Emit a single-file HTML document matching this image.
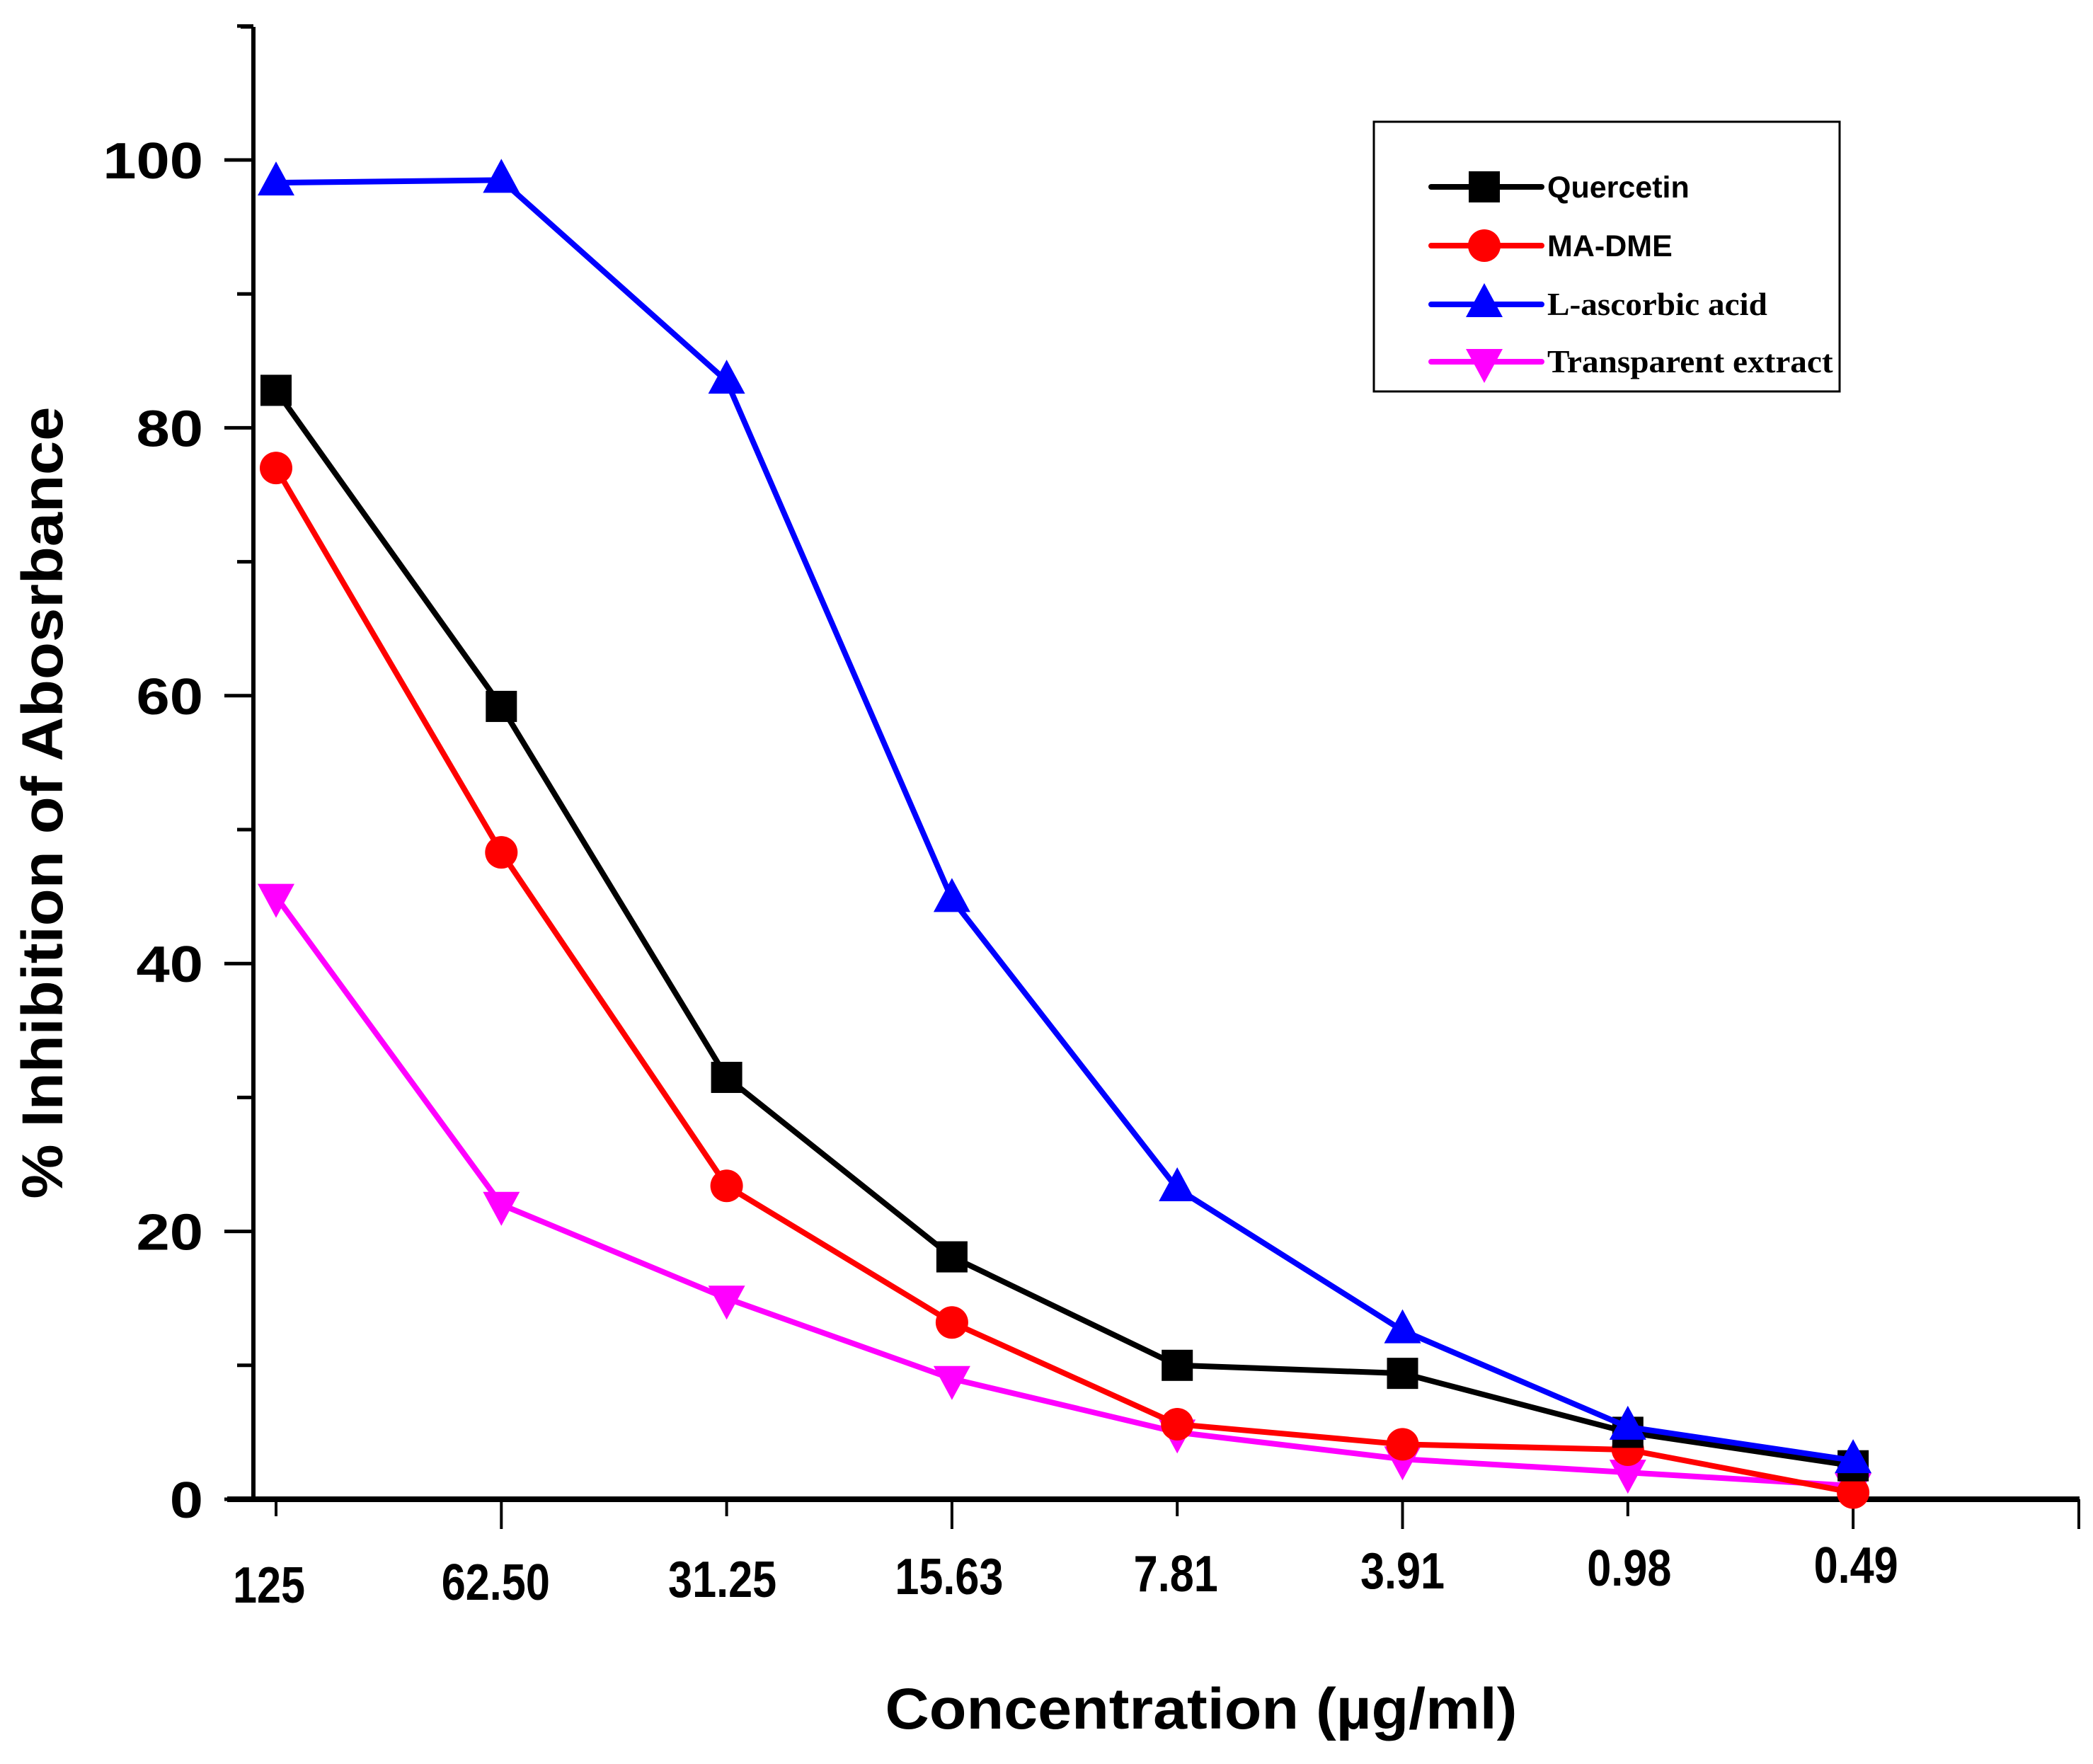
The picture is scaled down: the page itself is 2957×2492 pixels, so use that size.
<!DOCTYPE html>
<html><head><meta charset="utf-8"><style>
html,body{margin:0;padding:0;background:#fff;}
svg{display:block;}
</style></head><body>
<svg id="chart" width="2957" height="2492" viewBox="0 0 2957 2492" xmlns="http://www.w3.org/2000/svg">
<g id="axes"></g>
<g id="series"></g>
<g id="legend">
  <rect x="1941" y="172" width="658" height="381" fill="#fff" stroke="#000" stroke-width="3"/>
</g>
<text x="1697" y="2442" text-anchor="middle" font-family="Liberation Sans, sans-serif" font-weight="bold" font-size="82" textLength="893" lengthAdjust="spacingAndGlyphs">Concentration (µg/ml)</text>
<text transform="translate(88,1134) rotate(-90)" text-anchor="middle" font-family="Liberation Sans, sans-serif" font-weight="bold" font-size="82" textLength="1119" lengthAdjust="spacingAndGlyphs">% Inhibition of Abosrbance</text>
</svg>
<script>
const categories = ["125","62.50","31.25","15.63","7.81","3.91","0.98","0.49"];
const quercetin = [82.8,59.2,31.5,18.1,10.0,9.4,5.0,2.5];
const madme = [77.0,48.3,23.4,13.2,5.6,4.1,3.7,0.5];
const ascorbic = [98.3,98.5,83.5,44.8,23.2,12.6,5.4,2.9];
const transparent = [45.0,22.0,15.0,9.0,5.0,3.0,2.0,1.0];
const yTicks = [0,20,40,60,80,100];
const yMinor = [10,30,50,70,90,110];
const seriesNames = ["Quercetin","MA-DME","L-ascorbic acid","Transparent extract"];

const NS="http://www.w3.org/2000/svg";
const X0=390, DX=318.3, Y0=2118, PY=(2118-226)/100;
function xs(i){return X0+i*DX;}
function ys(v){return Y0-v*PY;}
function mk(tag,attrs,parent){const e=document.createElementNS(NS,tag);for(const k in attrs)e.setAttribute(k,attrs[k]);parent.appendChild(e);return e;}
const axes=document.getElementById('axes');
const ser=document.getElementById('series');
const leg=document.getElementById('legend');

let a=mk('line',{x1:358,y1:38,x2:358,y2:2121,stroke:'#000','stroke-width':6},axes);


a=mk('line',{x1:321,y1:2118,x2:2938,y2:2118,stroke:'#000','stroke-width':8},axes);


a=mk('line',{x1:340,y1:38,x2:358,y2:38,stroke:'#000','stroke-width':5},axes);



yTicks.forEach(v=>{
  const t=mk('line',{x1:317,y1:ys(v),x2:358,y2:ys(v),stroke:'#000','stroke-width':5},axes);
  
  
  const l=mk('text',{x:287,y:ys(v)+26,'text-anchor':'end','font-family':'Liberation Sans, sans-serif','font-weight':'bold','font-size':72,transform:`translate(${287*-0.18},0) scale(1.18,1)`},axes);
  l.textContent=String(v);
  
  
});
yMinor.forEach(v=>{
  const t=mk('line',{x1:335,y1:ys(v),x2:358,y2:ys(v),stroke:'#000','stroke-width':5},axes);
  
  
});
categories.forEach((c,i)=>{
  const len=(i%2===1)?42:24;
  const t=mk('line',{x1:xs(i),y1:2118,x2:xs(i),y2:2118+len,stroke:'#000','stroke-width':4},axes);
  
  
  const cx=xs(i)-10+i*2;
  const l=mk('text',{x:0,y:0,'text-anchor':'middle','font-family':'Liberation Sans, sans-serif','font-weight':'bold','font-size':72,transform:`translate(${cx},${2264-i*4}) scale(0.85,1)`},axes);
  l.textContent=c;
  
  
});
const t2=mk('line',{x1:2937,y1:2118,x2:2937,y2:2160,stroke:'#000','stroke-width':4},axes);



function marker(type,x,y,color,parent){
  let e;
  if(type==='square') e=mk('rect',{x:x-22,y:y-22,width:44,height:44,fill:color},parent);
  else if(type==='circle') e=mk('circle',{cx:x,cy:y,r:23,fill:color},parent);
  else if(type==='up') e=mk('polygon',{points:`${x},${y-30} ${x-26},${y+18} ${x+26},${y+18}`,fill:color},parent);
  else e=mk('polygon',{points:`${x},${y+30} ${x-26},${y-18} ${x+26},${y-18}`,fill:color},parent);
  return e;
}
const defs=[[transparent,'#ff00ff','down','transparent-extract'],[madme,'#ff0000','circle','ma-dme'],[quercetin,'#000000','square','quercetin'],[ascorbic,'#0000ff','up','l-ascorbic-acid']];
defs.forEach(([data,col,type,name])=>{
  const g=mk('g',{},ser);
  
  
  const p=mk('polyline',{points:data.map((v,i)=>xs(i)+','+ys(v)).join(' '),fill:'none',stroke:col,'stroke-width':8,'stroke-linejoin':'round'},g);
  
  
  data.forEach((v,i)=>{
    const m=marker(type,xs(i),ys(v),col,g);
    
    
  });
});
const legItems=[[ '#000','square','Quercetin',264,'Liberation Sans, sans-serif',43,1],['#ff0000','circle','MA-DME',347,'Liberation Sans, sans-serif',43,1],['#0000ff','up','L-ascorbic acid',430,'Liberation Serif, serif',45,1.05],['#ff00ff','down','Transparent extract',511,'Liberation Serif, serif',45,1.05]];
legItems.forEach(([col,type,label,y,ff,fs,sx])=>{
  const g=mk('g',{},leg);
  
  
  mk('line',{x1:2022,y1:y,x2:2178,y2:y,stroke:col,'stroke-width':8,'stroke-linecap':'round'},g);
  marker(type,2097,y,col,g);
  const t=mk('text',{x:0,y:0,'font-family':ff,'font-weight':'bold','font-size':fs,transform:`translate(2186,${y+15}) scale(${sx},1)`},g);
  t.textContent=label;
  
  
});
</script>
</body></html>
